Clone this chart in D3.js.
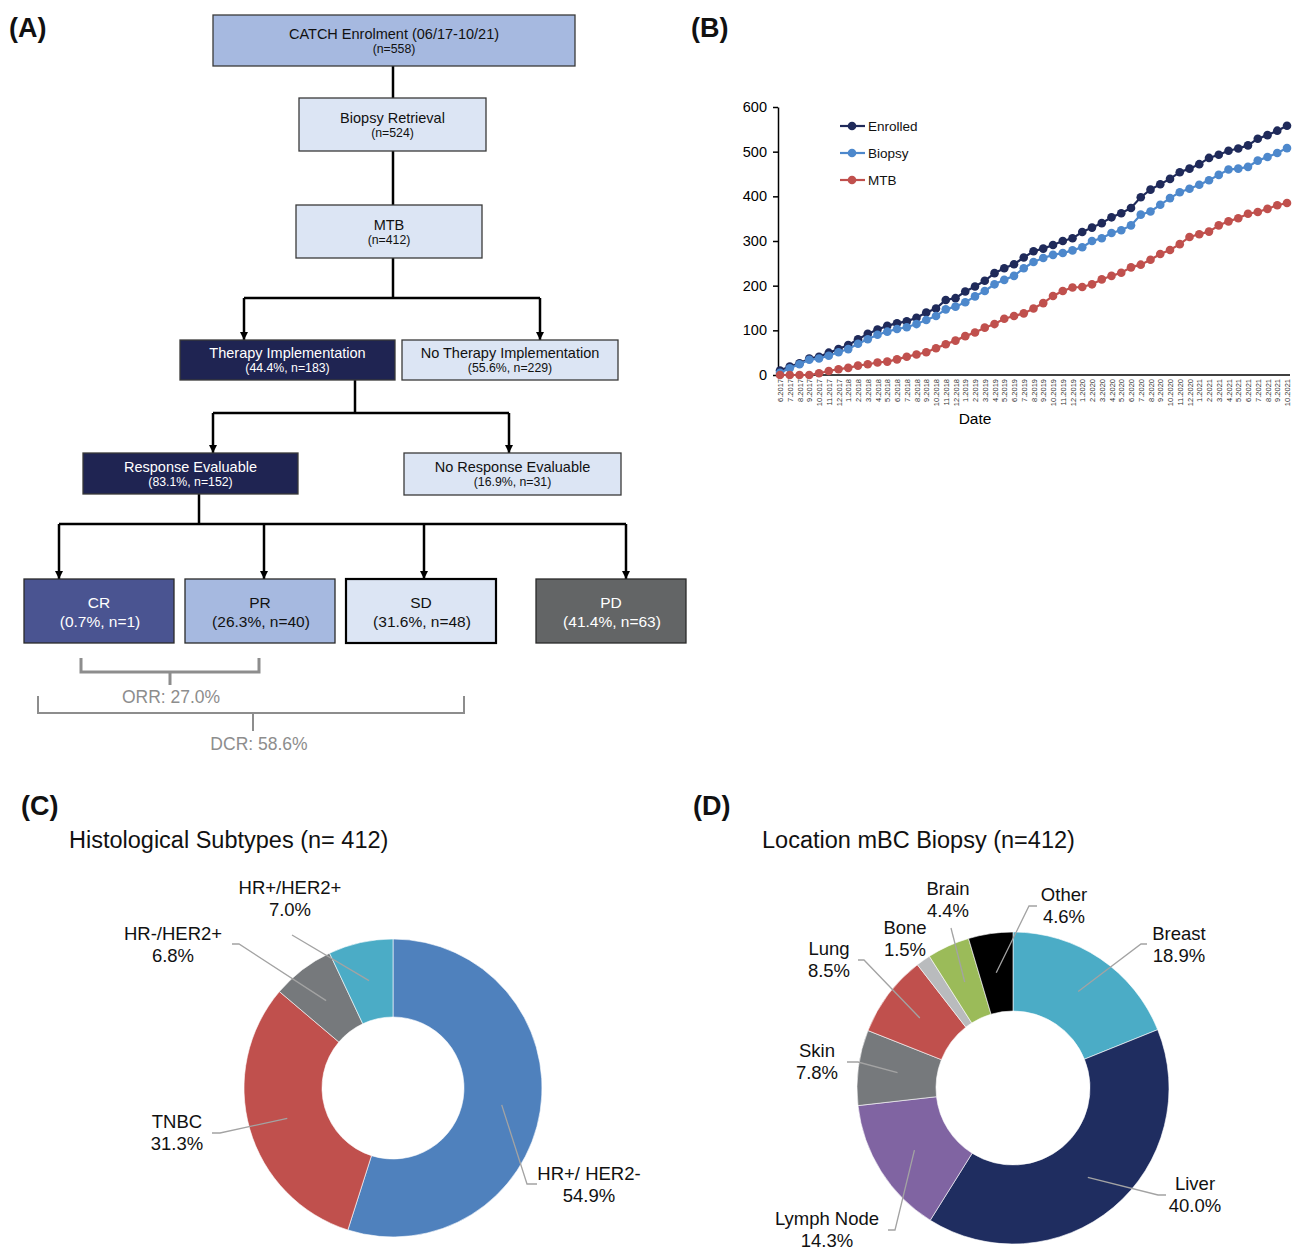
<!DOCTYPE html>
<html><head><meta charset="utf-8">
<script src="https://cdn.jsdelivr.net/npm/d3@7"></script>
<style>
body{margin:0;background:#fff}
svg{display:block}
text{font-family:"Liberation Sans", Arial, Helvetica, sans-serif}
</style>
</head><body>
<svg id="fig" width="1292" height="1251"></svg>
<script>
// ---------- data ----------
// (A) patient flow
const flowTitles = ["CATCH Enrolment (06/17-10/21)", "Biopsy Retrieval", "MTB",
  "Therapy Implementation", "No Therapy Implementation",
  "Response Evaluable", "No Response Evaluable"];
const flowCounts = [558, 524, 412, 183, 229, 152, 31];
const flowParent = [-1, -1, -1, 2, 2, 3, 3];   // share shown relative to this node
const responseLabels = ["CR", "PR", "SD", "PD"];
const responseCounts = [1, 40, 48, 63];

// (B) cumulative accrual per month
const months = ["6.2017","7.2017","8.2017","9.2017","10.2017","11.2017","12.2017",
  "1.2018","2.2018","3.2018","4.2018","5.2018","6.2018","7.2018","8.2018","9.2018","10.2018","11.2018","12.2018",
  "1.2019","2.2019","3.2019","4.2019","5.2019","6.2019","7.2019","8.2019","9.2019","10.2019","11.2019","12.2019",
  "1.2020","2.2020","3.2020","4.2020","5.2020","6.2020","7.2020","8.2020","9.2020","10.2020","11.2020","12.2020",
  "1.2021","2.2021","3.2021","4.2021","5.2021","6.2021","7.2021","8.2021","9.2021","10.2021"];
const enrolled = [10,19,26,37,41,50,58,
  67,80,92,102,110,116,120,128,140,149,168,172,
  187,198,211,228,239,248,263,277,283,291,300,306,
  320,330,340,353,362,374,398,415,427,439,454,462,
  472,486,493,502,507,514,529,537,547,558];
const biopsy = [5,15,24,34,37,43,51,
  58,70,80,90,97,103,107,114,123,132,147,153,
  163,176,188,203,213,222,239,253,262,269,273,279,
  286,300,306,318,324,335,359,366,381,396,409,417,
  426,436,448,460,462,466,480,488,497,508];
const mtb = [0,0,0,0,4,9,13,
  16,21,24,28,30,35,41,46,51,60,69,77,
  87,95,106,114,126,132,138,149,161,177,188,196,
  197,203,214,222,229,241,247,258,271,280,293,309,
  315,321,335,344,351,361,365,372,380,385];
const seriesNames = ["Enrolled", "Biopsy", "MTB"];
const yTicks = [0, 100, 200, 300, 400, 500, 600];

// (C) histological subtypes, percent
const subtypeLabels = ["HR+/ HER2-", "TNBC", "HR-/HER2+", "HR+/HER2+"];
const subtypeValues = [54.9, 31.3, 6.8, 7.0];

// (D) biopsy location, percent
const locationLabels = ["Breast", "Liver", "Lymph Node", "Skin", "Lung", "Bone", "Brain", "Other"];
const locationValues = [18.9, 40.0, 14.3, 7.8, 8.5, 1.5, 4.4, 4.6];

// ---------- drawing ----------
const FONT = '"Liberation Sans", Arial, Helvetica, sans-serif';
const svg = d3.select("#fig");
svg.append("rect").attr("width", 1292).attr("height", 1251).attr("fill", "#fff");

const NAVY = "#1f2452", PERI = "#a6b9e0", PALE = "#dce5f4";

// panel letters
[["(A)", 9, 37], ["(B)", 691, 37], ["(C)", 21, 815], ["(D)", 693, 815]].forEach(([t, x, y]) =>
  svg.append("text").attr("x", x).attr("y", y).attr("font-size", 27).attr("font-weight", "bold")
    .attr("fill", "#111").text(t));

// ===== (A) flow diagram =====
const defs = svg.append("defs");
defs.append("marker").attr("id", "arrow").attr("markerUnits", "userSpaceOnUse")
  .attr("viewBox", "0 0 10 10").attr("refX", 10).attr("refY", 5)
  .attr("markerWidth", 8).attr("markerHeight", 8).attr("orient", "auto")
  .append("path").attr("d", "M0,0L10,5L0,10Z").attr("fill", "#000");

const fmtPct = v => (v * 100).toFixed(1) + "%";
const flowSub = flowCounts.map((n, i) => flowParent[i] < 0 ? `(n=${n})`
  : `(${fmtPct(n / flowCounts[flowParent[i]])}, n=${n})`);

const flowBoxes = [
  {x: 213, y: 15, w: 362, h: 51, fill: PERI, ink: "#111"},
  {x: 299, y: 98, w: 187, h: 53, fill: PALE, ink: "#111"},
  {x: 296, y: 205, w: 186, h: 53, fill: PALE, ink: "#111"},
  {x: 180, y: 340, w: 215, h: 40, fill: NAVY, ink: "#fff"},
  {x: 402, y: 340, w: 216, h: 40, fill: PALE, ink: "#111"},
  {x: 83, y: 453, w: 215, h: 41, fill: NAVY, ink: "#fff"},
  {x: 404, y: 453, w: 217, h: 42, fill: PALE, ink: "#111"}
];
const gA = svg.append("g");

// connectors
const conn = gA.append("g").attr("fill", "none").attr("stroke", "#000").attr("stroke-width", 2.5);
const vline = (x, y1, y2, arrow) => {
  const p = conn.append("path").attr("d", `M${x},${y1}V${y2}`);
  if (arrow) p.attr("marker-end", "url(#arrow)");
};
const hline = (x1, x2, y) => conn.append("path").attr("d", `M${x1},${y}H${x2}`);
vline(393, 66, 98); vline(393, 151, 205); vline(393, 258, 298);
hline(244, 540, 298); vline(244, 298, 340, true); vline(540, 298, 340, true);
vline(355, 380, 413); hline(213, 509, 413); vline(213, 413, 453, true); vline(509, 413, 453, true);
vline(199, 494, 524); hline(59, 626, 524);
[59, 264, 424, 626].forEach(x => vline(x, 524, 579, true));

flowBoxes.forEach((b, i) => {
  const g = gA.append("g");
  g.append("rect").attr("x", b.x).attr("y", b.y).attr("width", b.w).attr("height", b.h)
    .attr("fill", b.fill).attr("stroke", "#3a3a3a").attr("stroke-width", 1.3);
  const cx = b.x + b.w / 2, cy = b.y + b.h / 2;
  g.append("text").attr("x", cx).attr("y", cy - 7).attr("dominant-baseline", "central")
    .attr("text-anchor", "middle").attr("font-size", 14.5).attr("fill", b.ink).text(flowTitles[i]);
  g.append("text").attr("x", cx).attr("y", cy + 8).attr("dominant-baseline", "central")
    .attr("text-anchor", "middle").attr("font-size", 12.3).attr("fill", b.ink).text(flowSub[i]);
});

// response boxes
const respTotal = d3.sum(responseCounts);
const respBoxes = [
  {x: 24, fill: "#4a5491", ink: "#fff", sw: 1.3, st: "#2a2a2a"},
  {x: 185, fill: PERI, ink: "#111", sw: 1.3, st: "#2a2a2a"},
  {x: 346, fill: PALE, ink: "#111", sw: 2.2, st: "#000"},
  {x: 536, fill: "#636566", ink: "#fff", sw: 1.3, st: "#2a2a2a"}
];
responseLabels.forEach((lab, i) => {
  const b = respBoxes[i], w = 150, y = 579, h = 64;
  gA.append("rect").attr("x", b.x).attr("y", y).attr("width", w).attr("height", h)
    .attr("fill", b.fill).attr("stroke", b.st).attr("stroke-width", b.sw);
  gA.append("text").attr("x", b.x + w / 2).attr("y", 602).attr("dominant-baseline", "central")
    .attr("text-anchor", "middle").attr("font-size", 15.5).attr("fill", b.ink).text(lab);
  gA.append("text").attr("x", b.x + w / 2 + 1).attr("y", 621).attr("dominant-baseline", "central")
    .attr("text-anchor", "middle").attr("font-size", 15.5).attr("fill", b.ink)
    .text(`(${fmtPct(responseCounts[i] / respTotal)}, n=${responseCounts[i]})`);
});

// ORR / DCR brackets
const GREY = "#8d8d8d";
const orr = (responseCounts[0] + responseCounts[1]) / respTotal;
const dcr = (responseCounts[0] + responseCounts[1] + responseCounts[2]) / respTotal;
gA.append("path").attr("d", "M81,658V672H259V658M170,672V685")
  .attr("fill", "none").attr("stroke", GREY).attr("stroke-width", 3);
gA.append("text").attr("x", 171).attr("y", 697).attr("dominant-baseline", "central")
  .attr("text-anchor", "middle").attr("font-size", 17.5).attr("fill", GREY).text("ORR: " + fmtPct(orr));
gA.append("path").attr("d", "M38,696V713H464V696M253,713V731")
  .attr("fill", "none").attr("stroke", GREY).attr("stroke-width", 2);
gA.append("text").attr("x", 259).attr("y", 744).attr("dominant-baseline", "central")
  .attr("text-anchor", "middle").attr("font-size", 17.5).attr("fill", GREY).text("DCR: " + fmtPct(dcr));

// ===== (B) accrual over time =====
const gB = svg.append("g");
const x = d3.scalePoint().domain(months).range([780, 1287]);
const y = d3.scaleLinear().domain([0, 600]).range([375, 107]);
const seriesData = [enrolled, biopsy, mtb];
const seriesColors = ["#1f2a5a", "#4d88cc", "#c0504d"];

gB.append("g").attr("transform", "translate(778,0)")
  .call(d3.axisLeft(y).tickValues(yTicks).tickSize(5).tickSizeOuter(0).tickPadding(6))
  .call(g => g.selectAll("path,line").attr("stroke", "#000").attr("stroke-width", 1.5))
  .call(g => g.selectAll("text").attr("font-size", 14.5).attr("fill", "#000").style("font-family", FONT));

const xAx = gB.append("g").attr("transform", "translate(0,375)")
  .call(d3.axisBottom(x).tickSize(0).tickSizeOuter(0));
xAx.select(".domain").attr("d", "M778,0H1290").attr("stroke", "#000").attr("stroke-width", 1.5);
xAx.selectAll("text").attr("transform", "rotate(-90)").attr("x", -4).attr("y", 0)
  .attr("dy", "0.35em").attr("text-anchor", "end").attr("font-size", 7.5).attr("fill", "#333")
  .style("font-family", FONT);

gB.append("text").attr("x", 975).attr("y", 418).attr("dominant-baseline", "central")
  .attr("text-anchor", "middle").attr("font-size", 15.5).attr("fill", "#000").text("Date");

const line = d3.line().x((d, i) => x(months[i])).y(d => y(d));
seriesData.forEach((s, k) => {
  const g = gB.append("g");
  g.append("path").datum(s).attr("d", line).attr("fill", "none")
    .attr("stroke", seriesColors[k]).attr("stroke-width", 2.2);
  g.selectAll("circle").data(s).join("circle")
    .attr("cx", (d, i) => x(months[i])).attr("cy", d => y(d)).attr("r", 4.3)
    .attr("fill", seriesColors[k]);
});

// legend
seriesNames.forEach((nm, k) => {
  const ly = 126 + k * 27;
  gB.append("line").attr("x1", 840).attr("x2", 865).attr("y1", ly).attr("y2", ly)
    .attr("stroke", seriesColors[k]).attr("stroke-width", 2.2);
  gB.append("circle").attr("cx", 852).attr("cy", ly).attr("r", 4.3).attr("fill", seriesColors[k]);
  gB.append("text").attr("x", 868).attr("y", ly).attr("dominant-baseline", "central")
    .attr("font-size", 13.5).attr("fill", "#111").text(nm);
});

// ===== (C) & (D) donuts =====
function donut(labels, values, colors, c, rIn, rOut, lay) {
  const g = svg.append("g");
  const arcs = d3.pie().sort(null).value(d => d)(values);
  const arc = d3.arc().innerRadius(rIn).outerRadius(rOut);
  const midArc = d3.arc().innerRadius((rIn + rOut) / 2).outerRadius((rIn + rOut) / 2);
  g.selectAll("path.slice").data(arcs).join("path").attr("class", "slice")
    .attr("transform", `translate(${c[0]},${c[1]})`)
    .attr("d", arc).attr("fill", (d, i) => colors[i])
    .attr("stroke", "#fff").attr("stroke-width", 0.6);
  arcs.forEach((a, i) => {
    const L = lay[i];
    if (L.e) {
      const [mx, my] = midArc.centroid(a);
      g.append("path").attr("d", `M${L.e[0]},${L.e[2]}H${L.e[1]}L${c[0] + mx},${c[1] + my}`)
        .attr("fill", "none").attr("stroke", "#a3a3a3").attr("stroke-width", 1.3);
    }
    const t = g.append("text").attr("text-anchor", "middle").attr("font-size", 18.5)
      .attr("fill", "#111");
    t.append("tspan").attr("x", L.t[0]).attr("y", L.t[1] + 6).text(labels[i]);
    t.append("tspan").attr("x", L.t[0]).attr("y", L.t[1] + 28).text(values[i].toFixed(1) + "%");
  });
  return g;
}

svg.append("text").attr("x", 69).attr("y", 848).attr("font-size", 23.5).attr("fill", "#111")
  .text("Histological Subtypes (n= 412)");
donut(subtypeLabels, subtypeValues, ["#4f81bd", "#c0504d", "#76797c", "#4bacc6"],
  [393, 1088], 71, 149, [
    {t: [589, 1174], e: [537, 527, 1184]},
    {t: [177, 1122], e: [212, 220, 1133]},
    {t: [173, 934], e: [232, 239, 944]},
    {t: [290, 888], e: [292, 292, 935]}
  ]);

svg.append("text").attr("x", 762).attr("y", 848).attr("font-size", 23.5).attr("fill", "#111")
  .text("Location mBC Biopsy (n=412)");
donut(locationLabels, locationValues,
  ["#4bacc6", "#1f2d60", "#8064a2", "#76797c", "#c0504d", "#b9bbbd", "#9bbb59", "#000000"],
  [1013, 1088], 77, 156, [
    {t: [1179, 934], e: [1147, 1141, 944]},
    {t: [1195, 1184], e: [1166, 1158, 1195]},
    {t: [827, 1219], e: [888, 895, 1230]},
    {t: [817, 1051], e: [847, 858, 1062]},
    {t: [829, 949], e: [858, 864, 960]},
    {t: [905, 928], e: null},
    {t: [948, 889], e: [951, 951, 928]},
    {t: [1064, 895], e: [1037, 1029, 906]}
  ]);
</script>
</body></html>
